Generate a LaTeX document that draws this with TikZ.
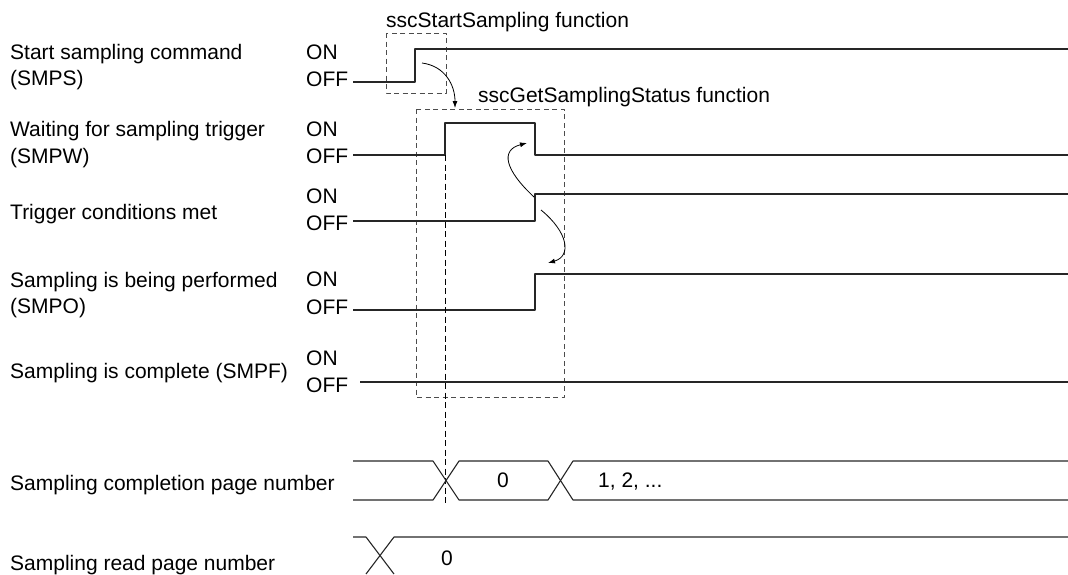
\documentclass[tikz,border=0pt]{standalone}
\usepackage{fontspec}
\setmainfont{Liberation Sans}
\usepackage{tikz}
\usetikzlibrary{arrows.meta}

\begin{document}
\begin{tikzpicture}[x=1pt,y=-1pt,line join=round,
    font=\fontsize{21}{25}\selectfont,
    txt/.style={anchor=base west,inner sep=0pt},
    wave/.style={line width=1.1pt,black!85},
    fbox/.style={line width=0.9pt,black!70,dash pattern=on 5pt off 3.5pt},
    cue/.style={line width=0.8pt,-{Latex[length=7pt,width=5pt]}}]
  \useasboundingbox (0,0) rectangle (1068,574);
  % signal names
  \foreach \n/\y/\t in {sc1/59/Start sampling command, sc2/85/(SMPS),
        sw1/136/Waiting for sampling trigger, sw2/163/(SMPW),
        tc/219/Trigger conditions met,
        so1/287/Sampling is being performed, so2/313/(SMPO),
        sf/378/Sampling is complete (SMPF),
        cp/490/Sampling completion page number, rp/570/Sampling read page number}
    {\node[txt] (\n) at (10,\y) {\t};}
  % levels
  \foreach \n/\a/\b in {smps/59/86, smpw/136/163, trig/203/230, smpo/286/314, smpf/365/392}
    {\node[txt] (on\n) at (306,\a) {ON}; \node[txt] (off\n) at (306,\b) {OFF};}
  % function frames
  \draw[fbox] (386,33) rectangle (446,93);
  \draw[fbox] (416,109) rectangle (564,397);
  \node[txt] (fstart) at (386,27) {sscStartSampling function};
  \node[txt] (fget) at (478,102) {sscGetSamplingStatus function};
  % waveforms
  \draw[wave] (353,82)--(415,82)--(415,49)--(1068,49);
  \draw[wave] (353,155)--(445,155)--(445,123)--(535,123)--(535,155)--(1068,155);
  \draw[wave] (353,221)--(535,221)--(535,194)--(1068,194);
  \draw[wave] (353,310)--(535,310)--(535,274)--(1068,274);
  \draw[wave] (360,382)--(1068,382);
  \draw[line width=0.9pt,dash pattern=on 6pt off 3.5pt] (445,155)--(445,503);
  % page number buses
  \draw[wave] (353,461)--(433,461)--(459,500)--(548,500)--(573,461)--(1068,461);
  \draw[wave] (353,500)--(433,500)--(459,461)--(548,461)--(573,500)--(1068,500);
  \draw[wave] (353,537)--(366,537)--(394,574);
  \draw[wave] (366,574)--(394,537)--(1068,537);
  \node[txt] (pg0) at (497,487) {0};
  \node[txt] (pgn) at (598,487) {1, 2, ...};
  \node[txt] (rd0) at (441,565) {0};
  % cause -> effect
  \coordinate (a1s) at (422,63);  \coordinate (a1e) at (455,108);
  \coordinate (a2s) at (534,197); \coordinate (a2e) at (527,143);
  \coordinate (a3s) at (541,210); \coordinate (a3e) at (548,263);
  \draw[cue] (a1s) .. controls (445,66) and (455,85) .. (a1e);
  \draw[cue] (a2s) .. controls (505,170) and (500,150) .. (a2e);
  \draw[cue] (a3s) .. controls (568,232) and (572,256) .. (a3e);
\end{tikzpicture}
\end{document}
